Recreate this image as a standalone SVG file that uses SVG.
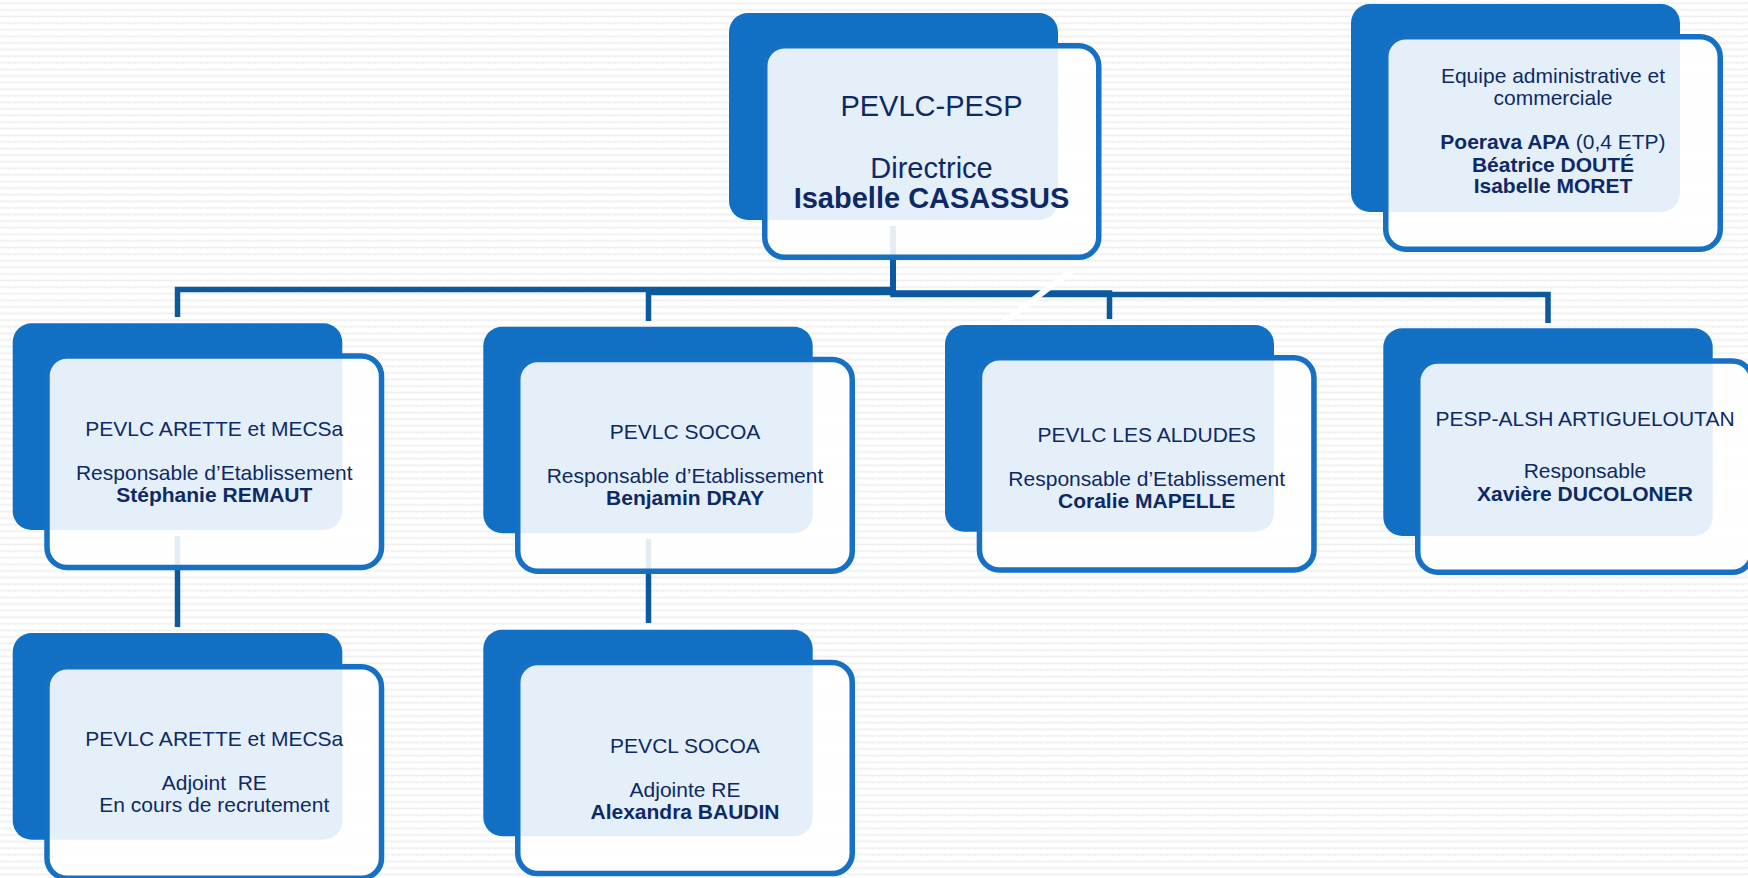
<svg xmlns="http://www.w3.org/2000/svg" width="1748" height="878" viewBox="0 0 1748 878">
<defs>
<pattern id="zig" width="6" height="6.6" patternUnits="userSpaceOnUse">
<path d="M0,4.2 L1.5,2.4 L3,4.2 L4.5,2.4 L6,4.2" fill="none" stroke="#ededed" stroke-width="1"/>
</pattern>
<style>
.back{fill:#1170C4;}
.front{fill:#ffffff;fill-opacity:0.89;stroke:#1670C4;stroke-width:5.5;}
.conn{fill:none;stroke:#0B5A9E;stroke-width:5.5;}
text{font-family:"Liberation Sans",Arial,sans-serif;fill:#0E2A66;text-anchor:middle;}
.t29{font-size:29px;}
.t21{font-size:21px;}
.b{font-weight:bold;}
</style>
</defs>
<rect x="0" y="0" width="1748" height="878" fill="#ffffff"/>
<rect x="0" y="0" width="1748" height="878" fill="url(#zig)"/>

<g id="connectors">
<path class="conn" d="M893,226 V289.5 H177.5 V317"/>
<path class="conn" d="M893,226 V292.5 H648.5 V321"/>
<path class="conn" d="M893,226 V293 H1109.5 V319"/>
<path class="conn" d="M893,226 V294.5 H1548 V323"/>
<path class="conn" d="M177.5,536 V627"/>
<path class="conn" d="M648.5,539 V623"/>
<line x1="990" y1="333" x2="1072" y2="270" stroke="#ffffff" stroke-width="6"/>
</g>

<g id="node-directrice">
<rect class="back" x="729" y="13" width="329" height="207" rx="19"/>
<rect class="front" x="764.75" y="45.75" width="334" height="211.5" rx="20"/>
<text class="t29" x="931.5" y="115.7">PEVLC-PESP</text>
<text class="t29" x="931.5" y="178.3">Directrice</text>
<text class="t29 b" x="931.5" y="208.3">Isabelle CASASSUS</text>
</g>

<g id="node-admin">
<rect class="back" x="1351" y="4" width="329" height="208" rx="19"/>
<rect class="front" x="1385.75" y="36.75" width="334.5" height="212.5" rx="20"/>
<text class="t21" x="1553" y="83.3">Equipe administrative et</text>
<text class="t21" x="1553" y="105">commerciale</text>
<text class="t21" x="1553" y="149.3"><tspan class="b">Poerava APA</tspan> (0,4 ETP)</text>
<text class="t21 b" x="1553" y="171.7">Béatrice DOUTÉ</text>
<text class="t21 b" x="1553" y="193.3">Isabelle MORET</text>
</g>

<g id="node-arette">
<rect class="back" x="12.7" y="323.3" width="329.6" height="206.7" rx="19"/>
<rect class="front" x="47" y="356" width="334.5" height="211.5" rx="20"/>
<text class="t21" x="214.3" y="436">PEVLC ARETTE et MECSa</text>
<text class="t21" x="214.3" y="480">Responsable d’Etablissement</text>
<text class="t21 b" x="214.3" y="501.7">Stéphanie REMAUT</text>
</g>

<g id="node-socoa">
<rect class="back" x="483.3" y="326.7" width="329.4" height="206.6" rx="19"/>
<rect class="front" x="517.75" y="359.45" width="334.5" height="211.8" rx="20"/>
<text class="t21" x="685" y="439">PEVLC SOCOA</text>
<text class="t21" x="685" y="482.7">Responsable d’Etablissement</text>
<text class="t21 b" x="685" y="505">Benjamin DRAY</text>
</g>

<g id="node-aldudes">
<rect class="back" x="945" y="325" width="329" height="206.7" rx="19"/>
<rect class="front" x="979.45" y="357.75" width="334.5" height="212.2" rx="20"/>
<text class="t21" x="1146.7" y="441.7">PEVLC LES ALDUDES</text>
<text class="t21" x="1146.7" y="486">Responsable d’Etablissement</text>
<text class="t21 b" x="1146.7" y="508.3">Coralie MAPELLE</text>
</g>

<g id="node-artigueloutan">
<rect class="back" x="1383.3" y="328.3" width="329.4" height="207.7" rx="19"/>
<rect class="front" x="1417.75" y="361.05" width="334.5" height="211.2" rx="20"/>
<text class="t21" x="1585" y="425.7">PESP-ALSH ARTIGUELOUTAN</text>
<text class="t21" x="1585" y="478.3">Responsable</text>
<text class="t21 b" x="1585" y="500.7">Xavière DUCOLONER</text>
</g>

<g id="node-arette-adjoint">
<rect class="back" x="12.7" y="633" width="329.6" height="206.7" rx="19"/>
<rect class="front" x="47" y="666.75" width="334.5" height="211.5" rx="20"/>
<text class="t21" x="214.3" y="745.7">PEVLC ARETTE et MECSa</text>
<text class="t21" x="214.3" y="789.7">Adjoint&#160; RE</text>
<text class="t21" x="214.3" y="812">En cours de recrutement</text>
</g>

<g id="node-socoa-adjointe">
<rect class="back" x="483.3" y="629.7" width="329.4" height="206.6" rx="19"/>
<rect class="front" x="517.75" y="662.45" width="334.5" height="211.1" rx="20"/>
<text class="t21" x="685" y="753">PEVCL SOCOA</text>
<text class="t21" x="685" y="797.3">Adjointe RE</text>
<text class="t21 b" x="685" y="818.7">Alexandra BAUDIN</text>
</g>
</svg>
